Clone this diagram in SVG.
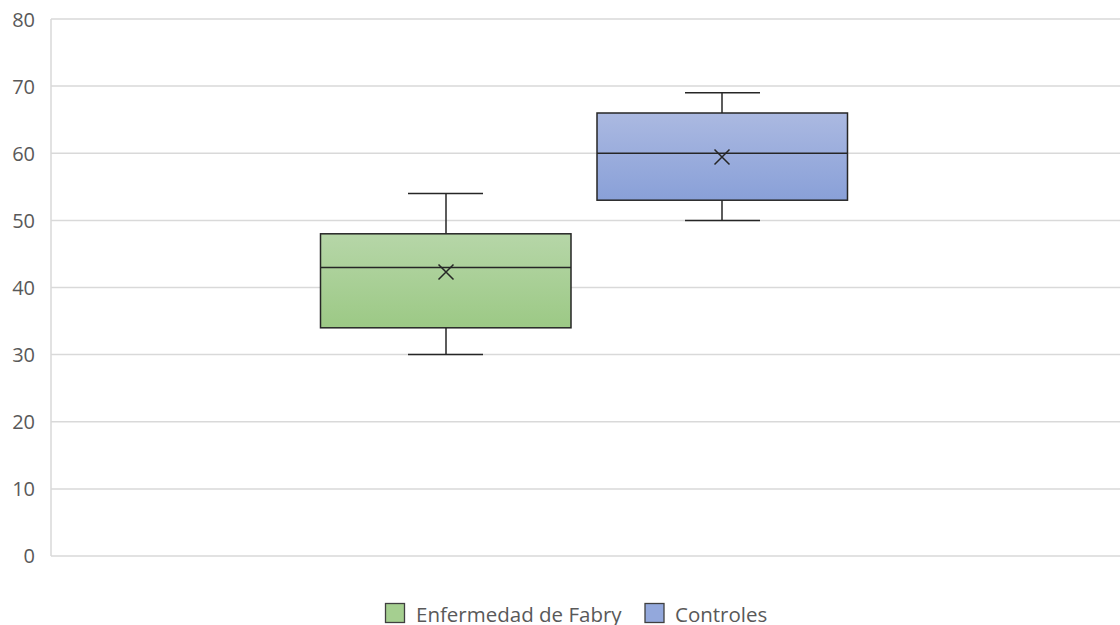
<svg xmlns="http://www.w3.org/2000/svg" width="1120" height="625" viewBox="0 0 1120 625">
<style>
.grid{stroke:#d9d9d9;stroke-width:1.5;fill:none}
.ax{font-family:"Open Sans","Noto Sans",sans-serif;font-size:20px;fill:#595959;text-anchor:end}
.leg{font-family:"Open Sans","Noto Sans",sans-serif;font-size:20.5px;fill:#595959}
.ln{stroke:#262626;stroke-width:1.5;fill:none}
.box{stroke:#262626;stroke-width:1.5}
</style>
<defs>
<linearGradient id="gG" x1="0" y1="0" x2="0" y2="1"><stop offset="0" stop-color="#b6d6a8"/><stop offset="1" stop-color="#9cc985"/></linearGradient>
<linearGradient id="gB" x1="0" y1="0" x2="0" y2="1"><stop offset="0" stop-color="#abb9e1"/><stop offset="1" stop-color="#89a0d8"/></linearGradient>
</defs>
<rect width="1120" height="625" fill="#ffffff"/>
<g id="grid">
<line class="grid" x1="51" y1="19" x2="1120" y2="19"/>
<line class="grid" x1="51" y1="86.1" x2="1120" y2="86.1"/>
<line class="grid" x1="51" y1="153.3" x2="1120" y2="153.3"/>
<line class="grid" x1="51" y1="220.4" x2="1120" y2="220.4"/>
<line class="grid" x1="51" y1="287.5" x2="1120" y2="287.5"/>
<line class="grid" x1="51" y1="354.6" x2="1120" y2="354.6"/>
<line class="grid" x1="51" y1="421.8" x2="1120" y2="421.8"/>
<line class="grid" x1="51" y1="488.9" x2="1120" y2="488.9"/>
<line class="grid" x1="51" y1="556" x2="1120" y2="556"/>
<line class="grid" x1="51" y1="19" x2="51" y2="556"/>
</g>
<g id="yaxis">
<text class="ax" x="35" y="26.5">80</text>
<text class="ax" x="35" y="93.5">70</text>
<text class="ax" x="35" y="160.5">60</text>
<text class="ax" x="35" y="227.5">50</text>
<text class="ax" x="35" y="294.5">40</text>
<text class="ax" x="35" y="361.5">30</text>
<text class="ax" x="35" y="428.5">20</text>
<text class="ax" x="35" y="495.5">10</text>
<text class="ax" x="35" y="563">0</text>
</g>
<g id="box-fabry">
<line class="ln" x1="446" y1="193.5" x2="446" y2="233.8"/>
<line class="ln" x1="408" y1="193.5" x2="483" y2="193.5"/>
<line class="ln" x1="446" y1="327.8" x2="446" y2="354.6"/>
<line class="ln" x1="408" y1="354.6" x2="483" y2="354.6"/>
<rect class="box" x="320.5" y="233.8" width="250.5" height="94" fill="url(#gG)"/>
<line class="ln" x1="320.5" y1="267.4" x2="571" y2="267.4"/>
<path class="ln" d="M438.5 264.5 L453.5 279.5 M453.5 264.5 L438.5 279.5"/>
</g>
<g id="box-controles">
<line class="ln" x1="722" y1="92.8" x2="722" y2="113"/>
<line class="ln" x1="685" y1="92.8" x2="760" y2="92.8"/>
<line class="ln" x1="722" y1="200.2" x2="722" y2="220.4"/>
<line class="ln" x1="685" y1="220.4" x2="760" y2="220.4"/>
<rect class="box" x="597" y="113" width="250.5" height="87.2" fill="url(#gB)"/>
<line class="ln" x1="597" y1="153.3" x2="847.5" y2="153.3"/>
<path class="ln" d="M714.5 149.5 L729.5 164.5 M729.5 149.5 L714.5 164.5"/>
</g>
<g id="legend">
<rect x="385.5" y="603.5" width="19" height="19" fill="#a5cf90" stroke="#404040" stroke-width="1.3"/>
<text class="leg" x="416" y="621.5">Enfermedad de Fabry</text>
<rect x="645" y="603.5" width="19" height="19" fill="#93a8dc" stroke="#404040" stroke-width="1.3"/>
<text class="leg" x="675" y="621.5">Controles</text>
</g>
</svg>
